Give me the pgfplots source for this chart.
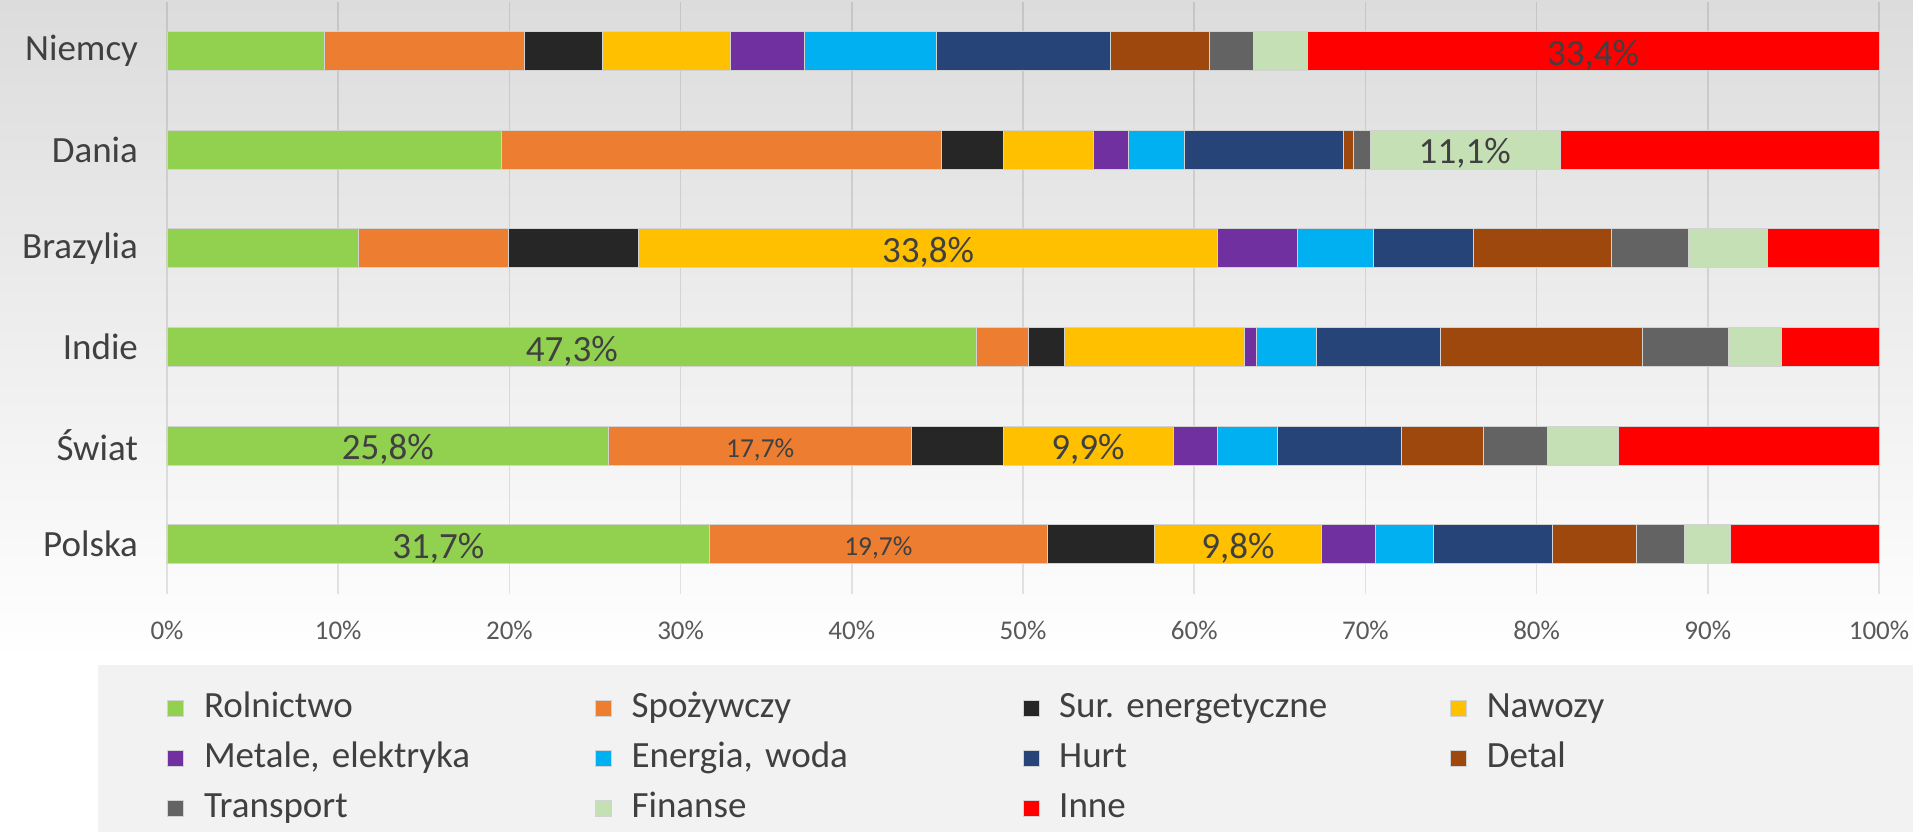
\documentclass[border=0pt]{standalone}
\usepackage{fontspec}
\setmainfont{Carlito}
\usepackage{pgfplots}
\usepackage{pgfplotstable}
\pgfplotsset{compat=1.18}

\definecolor{cRol}{HTML}{92D050}
\definecolor{cSpo}{HTML}{ED7D31}
\definecolor{cSur}{HTML}{262626}
\definecolor{cNaw}{HTML}{FFC000}
\definecolor{cMet}{HTML}{7030A0}
\definecolor{cEne}{HTML}{00B0F0}
\definecolor{cHurt}{HTML}{264478}
\definecolor{cDet}{HTML}{9E480E}
\definecolor{cTra}{HTML}{636363}
\definecolor{cFin}{HTML}{C5E0B4}
\definecolor{cInne}{HTML}{FF0000}
\definecolor{txt}{HTML}{404040}
\definecolor{tick}{HTML}{595959}
\definecolor{bgtop}{HTML}{DCDCDC}
\definecolor{legbg}{HTML}{F2F2F2}

% 0 Polska, 1 Swiat, 2 Indie, 3 Brazylia, 4 Dania, 5 Niemcy
\pgfplotstableread{
y rol spo sur naw met ene hurt det tra fin inne
0 31.7 19.7 6.25 9.8 3.1 3.4 6.95 4.95 2.75 2.7 8.7
1 25.8 17.7 5.35 9.9 2.6 3.5 7.25 4.8 3.75 4.15 15.2
2 47.3 3.0 2.13 10.52 0.65 3.53 7.27 11.78 5.02 3.09 5.71
3 11.2 8.75 7.6 33.8 4.7 4.4 5.85 8.05 4.5 4.65 6.5
4 19.5 25.75 3.6 5.25 2.05 3.3 9.25 0.6 1.0 11.1 18.6
5 9.2 11.65 4.57 7.47 4.31 7.72 10.17 5.8 2.57 3.13 33.4
}\datatab

\pgfplotsset{
    frame/.style={
        at={(83.5pt,-0.8pt)}, anchor=north west,
        scale only axis, width=856pt, height=296pt,
        xmin=0, xmax=100, ymin=-0.5, ymax=5.5,
    },
}

\begin{document}
\frenchspacing
\begin{tikzpicture}[
    lab/.style={text=txt, font=\fontsize{18.5}{22}\selectfont, yshift=-2pt},
    labs/.style={text=txt, font=\fontsize{13.7}{16}\selectfont, yshift=-2pt},
]
\useasboundingbox (0,0) rectangle (956.5pt,-415.5pt);
\fill[white] (0,0) rectangle (956.5pt,-415.5pt);
\shade[top color=bgtop, bottom color=white] (0,0) rectangle (956.5pt,-330pt);
\begin{axis}[
    frame,
    xbar stacked, bar width=19.5pt,
    axis line style={draw=none},
    major tick length=0pt,
    xtick={0,10,20,30,40,50,60,70,80,90,100},
    xticklabels={0\%,10\%,20\%,30\%,40\%,50\%,60\%,70\%,80\%,90\%,100\%},
    ytick={0,1,2,3,4,5},
    yticklabels={Polska,Świat,Indie,Brazylia,Dania,Niemcy},
    /pgf/number format/assume math mode=true,
    xticklabel style={font=\fontsize{13.5}{16}\selectfont, text=tick, yshift=-10pt},
    yticklabel style={font=\fontsize{18.5}{22}\selectfont, text=txt, xshift=-11pt},
    xmajorgrids,
    grid style={black, opacity=0.1, line width=0.8pt},
    every axis plot/.append style={draw=gray!35, line width=0.3pt},
    legend columns=4,
    legend style={
        at={(axis description cs:-0.0403,-0.1206)}, anchor=north west,
        draw=none, fill=legbg,
        inner xsep=34.5pt, inner ysep=13pt,
        row sep=8pt,
        font=\fontsize{18.5}{22}\selectfont, text=txt,
        nodes={text width=190.5pt, inner xsep=5pt, inner ysep=0pt, text height=13pt, text depth=4pt, align=left},
        /tikz/every odd column/.append style={column sep=5pt},
    },
    legend cell align=left,
    legend image code/.code={\fill[#1] (0pt,-4pt) rectangle (8pt,4pt);},
]
\addplot[fill=cRol] table[x=rol, y=y] {\datatab};
\addlegendentry{Rolnictwo}
\addplot[fill=cSpo] table[x=spo, y=y] {\datatab};
\addlegendentry{Spożywczy}
\addplot[fill=cSur] table[x=sur, y=y] {\datatab};
\addlegendentry{Sur. energetyczne}
\addplot[fill=cNaw] table[x=naw, y=y] {\datatab};
\addlegendentry{Nawozy}
\addplot[fill=cMet] table[x=met, y=y] {\datatab};
\addlegendentry{Metale, elektryka}
\addplot[fill=cEne] table[x=ene, y=y] {\datatab};
\addlegendentry{Energia, woda}
\addplot[fill=cHurt] table[x=hurt, y=y] {\datatab};
\addlegendentry{Hurt}
\addplot[fill=cDet] table[x=det, y=y] {\datatab};
\addlegendentry{Detal}
\addplot[fill=cTra] table[x=tra, y=y] {\datatab};
\addlegendentry{Transport}
\addplot[fill=cFin] table[x=fin, y=y] {\datatab};
\addlegendentry{Finanse}
\addplot[fill=cInne] table[x=inne, y=y] {\datatab};
\addlegendentry{Inne}
\end{axis}

% value labels, drawn above the bars in an overlaid axis with the same frame
\begin{axis}[frame, hide axis]
\node[lab] at (axis cs:83.3,5) {33,4\%};
\node[lab] at (axis cs:75.8,4) {11,1\%};
\node[lab] at (axis cs:44.45,3) {33,8\%};
\node[lab] at (axis cs:23.65,2) {47,3\%};
\node[lab] at (axis cs:12.9,1) {25,8\%};
\node[labs] at (axis cs:34.65,1) {17,7\%};
\node[lab] at (axis cs:53.8,1) {9,9\%};
\node[lab] at (axis cs:15.85,0) {31,7\%};
\node[labs] at (axis cs:41.55,0) {19,7\%};
\node[lab] at (axis cs:62.55,0) {9,8\%};
\end{axis}
\end{tikzpicture}
\end{document}
